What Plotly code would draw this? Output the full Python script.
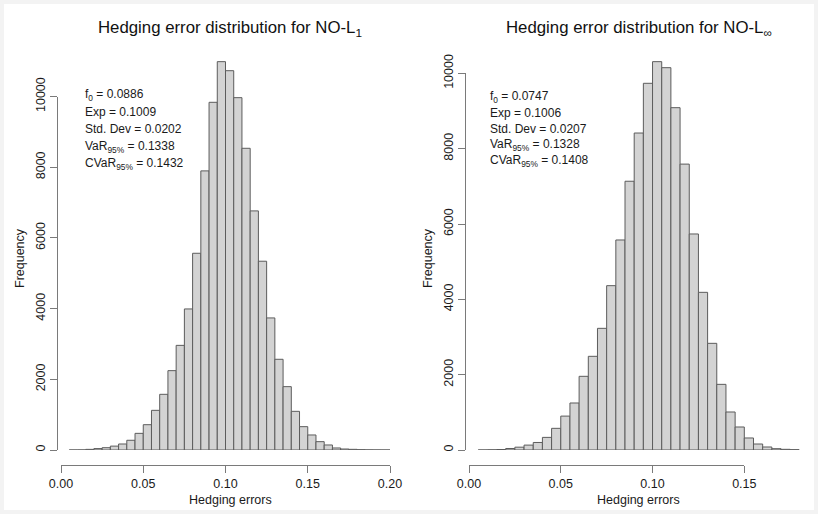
import plotly.graph_objects as go

# ---------------- data ----------------
bin_width = 0.005
first_edge = 0.005

left_counts = [1, 3, 18, 40, 65, 110, 170, 275, 471, 716, 1122, 1575, 2245, 2960,
               3990, 5565, 7896, 9836, 10986, 10730, 9967, 8535, 6764, 5340, 3736,
               2566, 1792, 1094, 660, 425, 236, 142, 57, 28, 19, 9, 4, 2, 1]
right_counts = [1, 5, 13, 40, 75, 130, 200, 335, 575, 900, 1248, 1956, 2487, 3230,
                4363, 5576, 7135, 8415, 9735, 10310, 10150, 9088, 7590, 5735, 4186,
                2832, 1743, 1009, 611, 319, 159, 80, 35, 18, 9]

left_xticks = [0.00, 0.05, 0.10, 0.15, 0.20]
left_xticklabels = ["0.00", "0.05", "0.10", "0.15", "0.20"]
right_xticks = [0.00, 0.05, 0.10, 0.15]
right_xticklabels = ["0.00", "0.05", "0.10", "0.15"]
yticks = [0, 2000, 4000, 6000, 8000, 10000]
yticklabels = ["0", "2000", "4000", "6000", "8000", "10000"]

titles = ["Hedging error distribution for NO-L<sub>1</sub>",
          "Hedging error distribution for NO-L<sub>∞</sub>"]
left_stats = ["f<sub>0</sub> = 0.0886", "Exp = 0.1009", "Std. Dev = 0.0202",
              "VaR<sub>95%</sub> = 0.1338", "CVaR<sub>95%</sub> = 0.1432"]
right_stats = ["f<sub>0</sub> = 0.0747", "Exp = 0.1006", "Std. Dev = 0.0207",
               "VaR<sub>95%</sub> = 0.1328", "CVaR<sub>95%</sub> = 0.1408"]

# ---------------- layout helpers ----------------
W, H = 818, 514
FONT = "Liberation Sans, Arial, Helvetica, sans-serif"
TXT = "#1a1a1a"
AXC = "#7a7a7a"


def fx(px):
    return px / W


def fy(py):
    return 1 - py / H


panels = [
    dict(counts=left_counts, x0px=61.0, xscale=1645.0, y0py=450.0, yscale=0.03535,
         xt=left_xticks, xtl=left_xticklabels, ylinepx=57.3, xlinepy=465.0,
         title=titles[0], stats=left_stats, statx=83.0, staty0=95.0, statdy=17.2,
         ylabpx=20.0),
    dict(counts=right_counts, x0px=469.0, xscale=1835.4, y0py=450.0, yscale=0.037667,
         xt=right_xticks, xtl=right_xticklabels, ylinepx=465.3, xlinepy=465.0,
         title=titles[1], stats=right_stats, statx=487.5, staty0=96.7, statdy=16.1,
         ylabpx=428.0),
]

fig = go.Figure()
layout = dict()
annotations = []

for i, p in enumerate(panels):
    n = len(p["counts"])
    centers = [first_edge + (k + 0.5) * bin_width for k in range(n)]
    xmax = first_edge + n * bin_width
    ymax = max(p["counts"]) * 1.04
    xd = i + 1           # data axes
    xc = i + 3           # decoration axes
    sfx_d = "" if xd == 1 else str(xd)
    sfx_c = str(xc)

    fig.add_trace(go.Bar(
        x=centers, y=p["counts"], width=bin_width,
        marker=dict(color="#d3d3d3", line=dict(color="#5c5c5c", width=1)),
        xaxis="x" + sfx_d, yaxis="y" + sfx_d, showlegend=False,
        hovertemplate="%{x:.4f}: %{y}<extra></extra>"))
    fig.add_trace(go.Scatter(x=[], y=[], xaxis="x" + sfx_c, yaxis="y" + sfx_c,
                             showlegend=False, hoverinfo="skip"))

    xdom = [fx(p["x0px"]), fx(p["x0px"] + xmax * p["xscale"])]
    ydom = [fy(p["y0py"]), fy(p["y0py"] - ymax * p["yscale"])]
    layout["xaxis" + sfx_d] = dict(domain=xdom, range=[0, xmax], visible=False,
                                   anchor="y" + sfx_d, fixedrange=True)
    layout["yaxis" + sfx_d] = dict(domain=ydom, range=[0, ymax], visible=False,
                                   anchor="x" + sfx_d, fixedrange=True)

    xt_max = p["xt"][-1]
    yt_max = yticks[-1]
    layout["xaxis" + sfx_c] = dict(
        domain=[fx(p["x0px"]), fx(p["x0px"] + xt_max * p["xscale"])],
        range=[0, xt_max], anchor="free", position=fy(p["xlinepy"]),
        showline=True, linecolor=AXC, linewidth=1, ticks="outside", ticklen=7,
        tickcolor=AXC, tickwidth=1, tickvals=p["xt"], ticktext=p["xtl"],
        showgrid=False, zeroline=False, fixedrange=True, automargin=False,
        tickfont=dict(family=FONT, size=12.5, color=TXT))
    layout["yaxis" + sfx_c] = dict(
        domain=[fy(p["y0py"]), fy(p["y0py"] - yt_max * p["yscale"])],
        range=[0, yt_max], anchor="free", position=fx(p["ylinepx"]),
        showline=True, linecolor=AXC, linewidth=1, ticks="outside", ticklen=7,
        tickcolor=AXC, tickwidth=1, tickvals=yticks, ticktext=yticklabels,
        tickangle=-90, showgrid=False, zeroline=False, fixedrange=True, automargin=False,
        tickfont=dict(family=FONT, size=12.5, color=TXT))

    region_l = p["ylinepx"]
    region_r = p["x0px"] + (xmax + 0.04 * (xmax - first_edge)) * p["xscale"]
    annotations.append(dict(text=p["title"], x=fx((region_l + region_r) / 2), y=fy(28),
                            xref="paper", yref="paper", showarrow=False,
                            xanchor="center", yanchor="middle",
                            font=dict(family=FONT, size=16.8, color="#111111")))
    annotations.append(dict(text="Hedging errors",
                            x=fx((region_l + region_r) / 2),
                            y=fy(500), xref="paper", yref="paper", showarrow=False,
                            xanchor="center", yanchor="middle",
                            font=dict(family=FONT, size=12.5, color=TXT)))
    annotations.append(dict(text="Frequency", x=fx(p["ylabpx"]), y=fy(258),
                            xref="paper", yref="paper", showarrow=False, textangle=-90,
                            xanchor="center", yanchor="middle",
                            font=dict(family=FONT, size=12.5, color=TXT)))
    for j, s in enumerate(p["stats"]):
        annotations.append(dict(text=s, x=fx(p["statx"]), y=fy(p["staty0"] + j * p["statdy"]),
                                xref="paper", yref="paper", showarrow=False,
                                xanchor="left", yanchor="middle",
                                font=dict(family=FONT, size=12, color=TXT)))

fig.update_layout(
    width=W, height=H,
    margin=dict(l=0, r=0, t=0, b=0, pad=0, autoexpand=False),
    paper_bgcolor="#f3f3f3",
    plot_bgcolor="rgba(0,0,0,0)",
    font=dict(family=FONT, color=TXT),
    annotations=annotations,
    shapes=[dict(type="rect", xref="paper", yref="paper", x0=fx(4), x1=fx(814),
                 y0=fy(510), y1=fy(4), fillcolor="white", line=dict(width=0),
                 layer="below")],
    **layout,
)

fig.write_html(
    "out.html",
    config={"displayModeBar": False},
    post_script="document.body.style.margin='0px';document.body.style.padding='0px';"
                "document.body.style.overflow='hidden';",
)
